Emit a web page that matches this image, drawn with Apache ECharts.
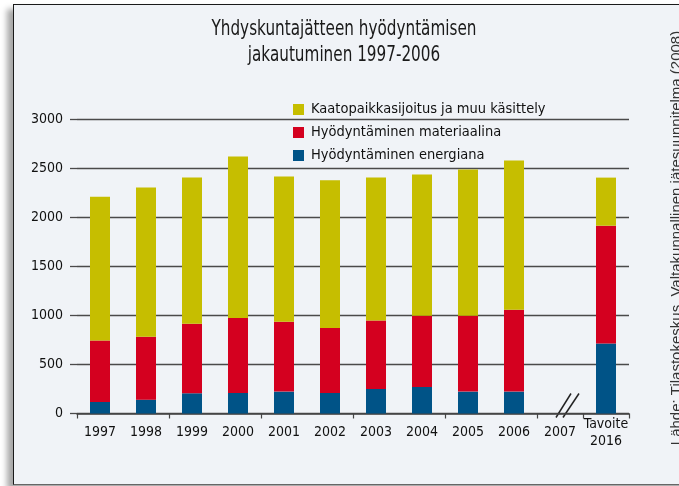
<!DOCTYPE html>
<html>
<head>
<meta charset="utf-8">
<script src="https://cdn.jsdelivr.net/npm/echarts@6/dist/echarts.min.js"></script>
<style>
  html, body { margin: 0; padding: 0; background: #fff; overflow: hidden; }
  #panel {
    position: absolute; left: 13px; top: 4px; width: 700px; height: 479px;
    background: #f0f3f7; border-top: 1.5px solid #1a1a1a; border-left: 1.5px solid #1a1a1a;
    border-bottom: 1.5px solid #666;
    box-shadow: -6px 5px 6px rgba(0, 0, 0, 0.35);
  }
  #chart { position: absolute; left: 0; top: 0; width: 679px; height: 486px; }
</style>
</head>
<body>
<div id="panel"></div>
<div id="chart"></div>
<script>
const categories = ['1997', '1998', '1999', '2000', '2001', '2002', '2003', '2004', '2005', '2006', '2007', 'Tavoite\n2016']
const energia = [117, 141, 206, 209, 223, 209, 250, 270, 223, 223, null, 712]
const materiaali = [626, 640, 707, 765, 711, 663, 697, 725, 772, 833, null, 1201]
const kaatopaikka = [1466, 1520, 1490, 1643, 1479, 1504, 1456, 1439, 1490, 1521, null, 490]
const yTicks = [0, 500, 1000, 1500, 2000, 2500, 3000]

const narrow = "'DejaVu Sans Condensed', 'Liberation Sans Narrow', sans-serif"
const names = ['Kaatopaikkasijoitus ja muu käsittely', 'Hyödyntäminen materiaalina', 'Hyödyntäminen energiana']

const chart = echarts.init(document.getElementById('chart'), null, { renderer: 'canvas' })

const option = {
  backgroundColor: 'transparent',
  animation: false,
  legend: {
    orient: 'vertical',
    left: 288,
    top: 97,
    itemWidth: 11,
    itemHeight: 11,
    itemGap: 8,
    icon: 'rect',
    data: names,
    textStyle: { fontFamily: narrow, fontSize: 14.5, color: '#111', lineHeight: 14, padding: [0, 0, 0, 2] },
  },
  grid: { left: 77, right: 50, top: 119, bottom: 72.5 },
  xAxis: {
    type: 'category',
    data: categories,
    axisLine: { lineStyle: { color: '#444', width: 1.5 } },
    axisTick: { show: true, interval: 1, length: 5, lineStyle: { color: '#444', width: 1.2 } },
    axisLabel: {
      interval: 0,
      margin: 19,
      verticalAlign: 'middle',
      fontFamily: narrow,
      fontSize: 14,
      lineHeight: 17,
      color: '#111',
    },
  },
  yAxis: {
    type: 'value',
    min: yTicks[0],
    max: yTicks[yTicks.length - 1],
    interval: 500,
    axisLine: { show: false },
    axisTick: { show: true, length: 7, lineStyle: { color: '#4a4a4a', width: 1.3 } },
    splitLine: { lineStyle: { color: '#4a4a4a', width: 1.3 } },
    axisLabel: { margin: 14, fontFamily: narrow, fontSize: 14, color: '#111', formatter: v => String(v) },
  },
  series: [
    { name: names[2], type: 'bar', stack: 'a', barWidth: 20, data: energia, itemStyle: { color: '#005387' } },
    { name: names[1], type: 'bar', stack: 'a', barWidth: 20, data: materiaali, itemStyle: { color: '#d4001f' } },
    { name: names[0], type: 'bar', stack: 'a', barWidth: 20, data: kaatopaikka, itemStyle: { color: '#c6be00' } },
  ],
}

chart.setOption(option)

// otsikko kapeana, katkoviivat vuoden 2007 kohdalle ja lähdeteksti oikeaan reunaan
const p = chart.convertToPixel({ xAxisIndex: 0, yAxisIndex: 0 }, ['2007', 0])
chart.setOption({
  graphic: [
    {
      type: 'text',
      x: 344,
      y: 16,
      scaleX: 0.77,
      style: {
        text: 'Yhdyskuntajätteen hyödyntämisen\njakautuminen 1997-2006',
        font: "22px 'DejaVu Sans Condensed', sans-serif",
        fill: '#1a1a1a',
        align: 'center',
        verticalAlign: 'top',
        lineHeight: 26,
      },
    },
    { type: 'line', shape: { x1: p[0] - 4, y1: p[1] + 4, x2: p[0] + 11, y2: p[1] - 20 }, style: { stroke: '#222', lineWidth: 1.5 } },
    { type: 'line', shape: { x1: p[0] + 3, y1: p[1] + 4, x2: p[0] + 19, y2: p[1] - 20 }, style: { stroke: '#222', lineWidth: 1.5 } },
    {
      type: 'text',
      x: 677,
      y: 238,
      rotation: Math.PI / 2,
      style: {
        text: 'Lähde: Tilastokeskus, Valtakunnallinen jätesuunnitelma (2008)',
        font: "15px 'Liberation Sans', sans-serif",
        fill: '#333',
        align: 'center',
        verticalAlign: 'middle',
      },
    },
  ],
})
</script>
</body>
</html>
